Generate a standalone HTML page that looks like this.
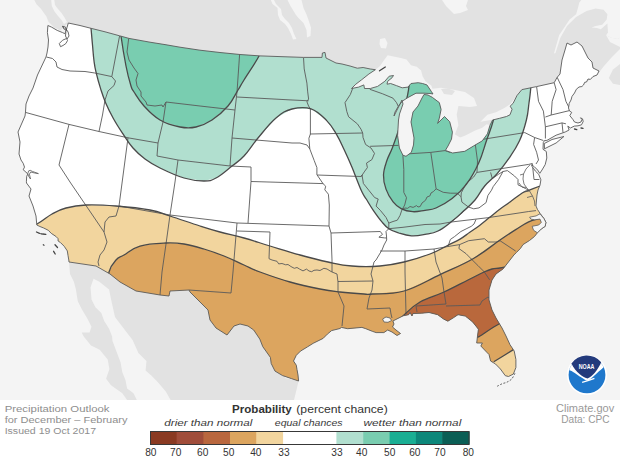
<!DOCTYPE html>
<html><head><meta charset="utf-8"><style>
html,body{margin:0;padding:0;background:#fff;}
body{width:620px;height:460px;position:relative;overflow:hidden;font-family:"Liberation Sans",sans-serif;}
svg{position:absolute;left:0;top:0;}
.t{position:absolute;white-space:nowrap;}
</style></head><body>
<svg width="620" height="460" viewBox="0 0 620 460">
<rect x="0" y="0" width="620" height="400" fill="#f4f4f4"/>
<path d="M34.3,0 L620,0 L620,49 L612,57 L604,66 L597,75 L560,100 L480,150 L400,100 L300,70 L120,40 L68.3,23 L65.9,25 L63.7,27.2 L60.4,30.4 L53.9,27.2 L48.5,21.7 L46.3,16.3 L40.9,8.7 L36.5,4.3Z" fill="#e2e2e2"/>
<path d="M608.8,78 L613,69.5 L620,63.9 L620,85 L613,83.7Z" fill="#e2e2e2"/>
<path d="M51.2,0 L54.3,0 L55,5 L58,9 L61.5,13 L64.5,17.5 L67,22 L64,24 L61.5,20 L58,16 L54.5,11.5 L51.8,6Z" fill="#f4f4f4"/>
<path d="M270.8,0 L274,0 L276,4 L281,9 L282,15 L285,19 L289,23 L292,28 L294,34 L296.5,39 L293,39.5 L291,34 L288,28 L285,24 L280,20 L278,15 L277.5,8 L272.5,4Z" fill="#f4f4f4"/>
<path d="M287.5,0 L301.5,0 L303.5,8 L306.5,14.5 L308.5,20 L311,27.5 L310.5,36 L307,37.5 L306.5,30 L303.5,23 L298.5,18 L296,15 L290.5,6Z" fill="#f4f4f4"/>
<path d="M380,39 L385,38 L387.5,43 L386,48.5 L381,48 L379.5,44Z" fill="#f4f4f4"/>
<path d="M442,0 L468,0 L466,6 L468,10 L460,13 L454,14 L446,6Z" fill="#f4f4f4"/>
<path d="M351.5,88.5 L355.8,84.2 L361.6,79.8 L368.9,74 L375.4,69.7 L380,66 L383.4,61 L387.7,55.2 L393.5,56.6 L400.8,58.1 L406.6,59.5 L411,65.3 L416.8,66.8 L421.1,70.4 L422.6,76.2 L425.5,81.3 L428.4,83.5 L431.3,85.6 L433,90 L431,92 L410,90 L380,90 L360,90Z" fill="#f4f4f4"/>
<path d="M396,95 L425,88 L432,92 L430,100 L416,160 L396,160Z" fill="#f4f4f4"/>
<path d="M425,90 L432.4,88.7 L441,87.8 L455,90 L465,92 L474,98 L477,106 L470,107 L458.4,106 L456.7,114.7 L458.4,125.2 L455,133.9 L453.2,140.8 L449.7,146 L445.4,150.4 L440,120 L432,96Z" fill="#f4f4f4"/>
<path d="M445.5,150 L449,144.3 L456,139 L464.8,135.7 L475.2,130.4 L482.2,127.8 L486.5,124.3 L490,125 L487.4,133.9 L482.2,140.9 L473.5,146 L464.8,151.3 L452.6,153Z" fill="#f4f4f4"/>
<path d="M480.4,121.7 L487.4,114.8 L496,112.2 L504.8,107.8 L510,104.3 L516,97 L520,92 L514,106 L510,114.8 L499.6,118.3 L490.9,120Z" fill="#f4f4f4"/>
<path d="M553.9,53.5 L559.1,35.2 L564.3,27.4 L569.6,19.6 L576.1,14.3 L578,7.8 L579.3,2.6 L581.3,0 L620,0 L620,37.8 L617.8,39.1 L611.3,37.8 L606.1,35.2 L608,32.6 L607.4,23.5 L600.8,29.3 L596.9,28 L591.7,27.4 L595.6,26.1 L602.2,24.8 L606.7,19.6 L607.4,14.3 L603.5,9.8 L595.6,8.5 L586.5,11.1 L576.1,17 L567,26.1 L560.4,37.8 L555.5,53Z" fill="#f4f4f4"/>
<path d="M606.1,35.2 L611.3,37.8 L617.8,39.1 L620,37.8 L620,47 L610,42Z" fill="#f4f4f4"/>
<path d="M441,89 L448,88.5 L455,91 L452,95 L444,94Z" fill="#e2e2e2"/>
<path d="M127.1,400 L122.3,393.2 L111,385.2 L106.1,378.7 L109.4,369 L107.7,359.4 L99.7,349.7 L91,345.5 L83.7,336.5 L81.7,332.6 L89.6,332.6 L91.5,326.8 L87.6,318.9 L81.7,309.1 L77.8,301.3 L75.9,289.6 L73.9,281.7 L70,273.9 L69,262 L96,262 L120,275 L136,285 L160,288 L200,288 L240,315 L270,340 L285,377.9 L298.6,381 L296.3,390.8 L294,400Z" fill="#e2e2e2"/>
<path d="M93.5,278.8 L99.4,281.7 L109.1,289.6 L111.1,299.4 L115,317 L120.9,324.8 L126.8,332.6 L132.6,340 L138.4,352.9 L146.5,361 L145.6,370.6 L151.3,375.5 L157.7,381.9 L165.8,391.6 L170.6,400 L136.8,400 L133.5,393.2 L127.1,388.4 L125.5,380.3 L122.3,372.3 L120.6,362.6 L115.8,349.7 L112.5,341 L112.1,336.5 L109.1,328.7 L104.2,320.9 L101.3,313.1 L95.4,307.2 L91.5,299.4 L90.5,287.6Z" fill="#f4f4f4"/>
<clipPath id="us"><path d="M47.9,25.5 L51.7,27.2 L57.2,30.4 L62.6,32.6 L64.8,33.7 L66,31 L67,27.5 L68.3,23 L80,25.5 L91,28.3 L105,31.8 L119.6,35.8 L129,38.4 L150,42.2 L165,44.6 L180,47.2 L200,50.2 L220,52.5 L240,54.5 L260,55.9 L280,56.6 L303.5,57.4 L322,57.4 L322.4,53 L325,52.4 L326,58 L330,60 L336,63 L342,64 L350,66 L357.3,68.2 L363.1,67.5 L370.3,69 L375.4,69.7 L368.9,74 L361.6,79.8 L355.8,84.2 L351.5,88.5 L358.7,87.1 L363.8,84.9 L364.5,88.5 L370.3,88.5 L377.6,86.4 L384.8,81.3 L389.2,76.2 L393.5,75.5 L392.1,77.7 L387.7,81.3 L387,84.2 L390.6,83.5 L396.4,85.6 L402.2,87.8 L408,87.1 L411,83.5 L418.2,82.7 L422.6,83.5 L426.9,84.9 L431.3,91.4 L433,94 L430,93.5 L424,93.2 L416,93.2 L408,97.5 L402.5,101 L398.5,106 L395,112 L394,116 L399,106 L402,100 L403,104 L399.5,114 L398.5,120 L397.6,135.6 L399.4,148 L402.9,155.2 L406,156.3 L411.3,152.4 L413.5,145 L414,138 L411,122 L413,112 L418,106 L422,98 L424,94.5 L428,95 L432.4,97.4 L439.3,102.6 L441.1,109.5 L439.3,118.2 L437.6,123.4 L444.5,116.5 L449.7,121.7 L452.4,132.1 L451.5,139.1 L448,146 L445.4,150.4 L452.6,153 L464.8,151.3 L473.5,146 L482.2,140.9 L487.4,133.9 L490,125.2 L492.6,120 L499.6,118.3 L506.5,116.5 L510,114.8 L512.1,109.2 L510.1,106.2 L513.1,103.3 L517,95.5 L521.9,89.6 L536.6,86.6 L554.2,82.7 L557,77.5 L560,74 L562,60 L565,50 L567,43 L571,45 L577,42 L582,46 L588,58 L592,62 L593,68 L599,71 L597,75 L593,76.5 L590.4,79.4 L588,79 L586.5,82 L584.7,82.3 L583.5,85 L581.9,86.5 L579,87 L576.3,89.3 L574.5,93 L572,96.4 L571,100 L569.2,103.4 L568.5,108 L569.5,111 L571.7,112.4 L569.8,115.6 L573,119.6 L574.5,122 L578,123 L581,122 L582,119.5 L580.5,117.8 L582.5,118.8 L583.2,121.5 L581.5,124.8 L578,125.8 L574.3,126.1 L570.4,128 L567.8,126.1 L569.1,130 L565.2,132 L556.1,135.2 L546.9,140.4 L544.5,140.5 L543.3,142.5 L543,149.3 L546.3,151.5 L546.8,158 L545.2,164.6 L542,170 L539.8,173.3 L537.6,170 L534.3,166.7 L531.5,164.8 L532.2,166.7 L533.8,168.9 L535.4,171.1 L538.7,174.3 L540.9,179.8 L540,185.2 L538,190 L537,195 L536.5,200 L536,206 L537.4,209.3 L540,213.3 L543.9,218.5 L545.9,222.4 L545.2,226.3 L541.3,228.9 L537.4,232.8 L534.5,236.5 L529.5,240.5 L523,244.6 L520.4,248.5 L516.5,252.4 L513.9,255 L510,260 L503,269 L496,274 L492,280 L489,290 L489,300 L492,310 L496,318 L502,328 L506,336 L510,344.7 L514.2,351 L515.9,359.4 L515.9,367.5 L513.4,374 L508.5,376.5 L505.3,375.7 L500.4,369 L495.5,364 L490.6,361 L489,354.5 L487.3,352.8 L480.8,346 L482.4,343 L476.7,343 L477.5,336 L478.3,330 L478.4,329.2 L472.6,321.9 L465.3,316.1 L458,314.7 L453.7,317.6 L447.9,321.2 L443.5,319 L437.7,314.7 L429,312.5 L421.8,313.2 L413,313.5 L412,316 L410,312.5 L408.7,314.7 L403.2,315.8 L398,318.4 L392.9,321 L394,324 L392.5,327 L396,330 L400.5,333.5 L397,335.5 L392,332 L387.7,330 L383.9,332.6 L376.1,332.6 L372.3,331.3 L365.8,328.7 L361.9,327.4 L347.7,328.7 L341.3,327.4 L340,328.5 L331.6,330.6 L327.4,334.1 L323.1,338.4 L313.2,343.3 L307.6,346.8 L300.5,351.1 L296.3,355.3 L293.5,361 L296.3,365.2 L297,369.5 L298,375 L298.6,381 L291.7,378.7 L282.6,375.6 L275,371.1 L271.2,363.5 L270.4,357.4 L262.8,346.7 L259.8,339.1 L253.7,330 L248,326 L240,324 L234,326 L227,335 L216,328 L210,320 L208,310 L200,302 L190,292 L189,290 L170,291 L169,296 L160,295 L136,291 L120,282 L110,274 L96,266 L69,262 L68.8,260 L68,255.4 L67.3,250.9 L64.2,246.3 L60.4,242.5 L58.1,241 L58.1,238.7 L55.9,236.4 L51.3,233.4 L48.3,230.3 L43.7,228 L39.9,226.5 L36.8,225 L36,216 L33,206 L29,196 L31,189 L26.5,183 L26.4,181.7 L26.7,176.3 L27.8,174.1 L25.9,172 L23.2,169.8 L24.5,167.1 L23.2,163.3 L21,160 L19,154 L20,142 L18,132 L25,116 L25.5,112 L26,104 L29,96 L33,88 L37.5,75 L46,57 L47,53 L48,47 L48.5,40 L47.4,32.6Z M544.3,143.5 L552,139.5 L563.9,136.5 L556.1,143 L548,147 L544.5,148.8Z"/></clipPath>
<path d="M47.9,25.5 L51.7,27.2 L57.2,30.4 L62.6,32.6 L64.8,33.7 L66,31 L67,27.5 L68.3,23 L80,25.5 L91,28.3 L105,31.8 L119.6,35.8 L129,38.4 L150,42.2 L165,44.6 L180,47.2 L200,50.2 L220,52.5 L240,54.5 L260,55.9 L280,56.6 L303.5,57.4 L322,57.4 L322.4,53 L325,52.4 L326,58 L330,60 L336,63 L342,64 L350,66 L357.3,68.2 L363.1,67.5 L370.3,69 L375.4,69.7 L368.9,74 L361.6,79.8 L355.8,84.2 L351.5,88.5 L358.7,87.1 L363.8,84.9 L364.5,88.5 L370.3,88.5 L377.6,86.4 L384.8,81.3 L389.2,76.2 L393.5,75.5 L392.1,77.7 L387.7,81.3 L387,84.2 L390.6,83.5 L396.4,85.6 L402.2,87.8 L408,87.1 L411,83.5 L418.2,82.7 L422.6,83.5 L426.9,84.9 L431.3,91.4 L433,94 L430,93.5 L424,93.2 L416,93.2 L408,97.5 L402.5,101 L398.5,106 L395,112 L394,116 L399,106 L402,100 L403,104 L399.5,114 L398.5,120 L397.6,135.6 L399.4,148 L402.9,155.2 L406,156.3 L411.3,152.4 L413.5,145 L414,138 L411,122 L413,112 L418,106 L422,98 L424,94.5 L428,95 L432.4,97.4 L439.3,102.6 L441.1,109.5 L439.3,118.2 L437.6,123.4 L444.5,116.5 L449.7,121.7 L452.4,132.1 L451.5,139.1 L448,146 L445.4,150.4 L452.6,153 L464.8,151.3 L473.5,146 L482.2,140.9 L487.4,133.9 L490,125.2 L492.6,120 L499.6,118.3 L506.5,116.5 L510,114.8 L512.1,109.2 L510.1,106.2 L513.1,103.3 L517,95.5 L521.9,89.6 L536.6,86.6 L554.2,82.7 L557,77.5 L560,74 L562,60 L565,50 L567,43 L571,45 L577,42 L582,46 L588,58 L592,62 L593,68 L599,71 L597,75 L593,76.5 L590.4,79.4 L588,79 L586.5,82 L584.7,82.3 L583.5,85 L581.9,86.5 L579,87 L576.3,89.3 L574.5,93 L572,96.4 L571,100 L569.2,103.4 L568.5,108 L569.5,111 L571.7,112.4 L569.8,115.6 L573,119.6 L574.5,122 L578,123 L581,122 L582,119.5 L580.5,117.8 L582.5,118.8 L583.2,121.5 L581.5,124.8 L578,125.8 L574.3,126.1 L570.4,128 L567.8,126.1 L569.1,130 L565.2,132 L556.1,135.2 L546.9,140.4 L544.5,140.5 L543.3,142.5 L543,149.3 L546.3,151.5 L546.8,158 L545.2,164.6 L542,170 L539.8,173.3 L537.6,170 L534.3,166.7 L531.5,164.8 L532.2,166.7 L533.8,168.9 L535.4,171.1 L538.7,174.3 L540.9,179.8 L540,185.2 L538,190 L537,195 L536.5,200 L536,206 L537.4,209.3 L540,213.3 L543.9,218.5 L545.9,222.4 L545.2,226.3 L541.3,228.9 L537.4,232.8 L534.5,236.5 L529.5,240.5 L523,244.6 L520.4,248.5 L516.5,252.4 L513.9,255 L510,260 L503,269 L496,274 L492,280 L489,290 L489,300 L492,310 L496,318 L502,328 L506,336 L510,344.7 L514.2,351 L515.9,359.4 L515.9,367.5 L513.4,374 L508.5,376.5 L505.3,375.7 L500.4,369 L495.5,364 L490.6,361 L489,354.5 L487.3,352.8 L480.8,346 L482.4,343 L476.7,343 L477.5,336 L478.3,330 L478.4,329.2 L472.6,321.9 L465.3,316.1 L458,314.7 L453.7,317.6 L447.9,321.2 L443.5,319 L437.7,314.7 L429,312.5 L421.8,313.2 L413,313.5 L412,316 L410,312.5 L408.7,314.7 L403.2,315.8 L398,318.4 L392.9,321 L394,324 L392.5,327 L396,330 L400.5,333.5 L397,335.5 L392,332 L387.7,330 L383.9,332.6 L376.1,332.6 L372.3,331.3 L365.8,328.7 L361.9,327.4 L347.7,328.7 L341.3,327.4 L340,328.5 L331.6,330.6 L327.4,334.1 L323.1,338.4 L313.2,343.3 L307.6,346.8 L300.5,351.1 L296.3,355.3 L293.5,361 L296.3,365.2 L297,369.5 L298,375 L298.6,381 L291.7,378.7 L282.6,375.6 L275,371.1 L271.2,363.5 L270.4,357.4 L262.8,346.7 L259.8,339.1 L253.7,330 L248,326 L240,324 L234,326 L227,335 L216,328 L210,320 L208,310 L200,302 L190,292 L189,290 L170,291 L169,296 L160,295 L136,291 L120,282 L110,274 L96,266 L69,262 L68.8,260 L68,255.4 L67.3,250.9 L64.2,246.3 L60.4,242.5 L58.1,241 L58.1,238.7 L55.9,236.4 L51.3,233.4 L48.3,230.3 L43.7,228 L39.9,226.5 L36.8,225 L36,216 L33,206 L29,196 L31,189 L26.5,183 L26.4,181.7 L26.7,176.3 L27.8,174.1 L25.9,172 L23.2,169.8 L24.5,167.1 L23.2,163.3 L21,160 L19,154 L20,142 L18,132 L25,116 L25.5,112 L26,104 L29,96 L33,88 L37.5,75 L46,57 L47,53 L48,47 L48.5,40 L47.4,32.6Z M544.3,143.5 L552,139.5 L563.9,136.5 L556.1,143 L548,147 L544.5,148.8Z" fill="#fff"/>
<g clip-path="url(#us)"><path d="M91,28 L92.5,45 L93.9,60 L95.9,71.7 L100.8,89.4 L105.7,103 L113.5,118.7 L123.3,134.4 L133,148 L145,159 L160,168 L184,178 L204,181 L216,178 L232,166 L244,156 L258,138 L276,118 L292,109 L311,108.8 L326.7,120.6 L336.5,134.3 L344.3,150 L352.1,167.5 L357,180 L362,192 L366.2,199 L373.3,210.3 L381.7,221.6 L388.8,228.7 L398.7,233 L411.4,235.8 L425,234.4 L438,231 L451,222 L462,212.5 L475,200 L484.7,186 L496.9,173.9 L509.1,158.2 L519.5,140.8 L526.4,120 L529,103 L530.7,88.6 L533,60 L540,0 L91,0Z" fill="#b1dfcf"/><path d="M121,30 L121,36 L126,66 L130.7,85 L134,92 L144,106 L160,120 L180,127 L196,127 L212,120 L228,106 L238,90 L244,80 L259,56 L265,40Z" fill="#79cdb0"/><path d="M409,60 L409,86 L404,110 L398.5,130.3 L392.3,148 L386.9,160.5 L383.5,175 L386,189.1 L393.1,201.9 L401.5,208.9 L412.8,211.7 L425,210.3 L436,208 L452.1,198.6 L466.3,184.4 L478.7,163 L486.7,140 L493.5,119.9 L500,90 L500,60Z" fill="#79cdb0"/><path d="M20,230 L37,224 L52,214 L66,208 L86,205 L116,206 L150,210 L170,216 L200,226 L220,232 L244,238 L270,246 L300,255 L328,262 L352,266 L380,266 L404,262 L430,254 L448.4,245 L460,239.1 L469.8,232.3 L479.6,225.4 L489.4,217.6 L499.1,209.8 L510,202 L522.2,193 L528.7,190.4 L540,186 L620,186 L620,400 L0,400 L0,230Z" fill="#f2d59e"/><path d="M108,290 L109,272 L116,260 L124,255 L140,246 L166,243 L184,244 L204,249 L224,256 L244,265 L260,272 L290,282 L320,289 L340,292 L364,294 L372,294 L404,291 L440,274.6 L472.6,259 L500,240 L515.7,229.6 L528.7,221.8 L540.5,217.9 L555,212 L620,214 L620,340 L520,345 L513.4,349.6 L493.8,361.8 L470,375 L470,400 L108,400Z" fill="#dca55f"/><path d="M400,320 L404,315 L420,302 L444,292 L468,280 L484,272 L492,269 L500,268 L510,266 L620,266 L620,320 L510,322 L503.6,325 L499,324 L480,336 L478.3,337 L470,345 L400,345Z" fill="#b9683c"/>
<g fill="none" stroke="#5a5a5a" stroke-width="0.9" stroke-linejoin="round"><path d="M46.4,57 L52.5,58.5 L56,62 L57,67 L62,69.5 L70,71 L85,71.5 L94.8,73 L111.8,76.6"/><path d="M119.6,35.8 L111.8,76.6"/><path d="M111.8,76.6 L115.5,81 L114,85.5 L108,91 L105,100 L102.5,115 L99,131.5"/><path d="M25.5,112.4 L69,124.4 L99,131.5 L128,137.8 L158,143"/><path d="M69,124.4 L59,165 L70,182 L104,232"/><path d="M119,206 L116,216 L109,217 L105,222 L104,232 L107,242 L104,250 L100,255 L98,262 L99,266"/><path d="M128,137.8 L119,206"/><path d="M128.7,38.4 L127,52 L129,60 L134,68 L138,73.5 L136,80 L137,86 L141,92 L141,96 L146,102 L147,105 L155,106 L162,105 L163,107 L166,102"/><path d="M166,102 L163,122 L158,143 L157,156"/><path d="M157,156 L178,160 L230,166"/><path d="M178,160 L175,182 L170,215"/><path d="M166,102 L200,106 L235,110"/><path d="M239.6,54.5 L237,92 L235,110 L232,138 L230,166"/><path d="M237,97 L290,99.9 L308.6,100.8"/><path d="M232,138 L292,143 L300,143 L307,145 L309.8,149"/><path d="M303.5,57.4 L304.2,68.9 L306.9,83.1 L307.7,91.9 L308.6,99 L306.9,101.7 L308.6,106.1 L310.4,108.8 L310.4,134 L308.9,138.3 L309.8,149"/><path d="M310,134 L362.5,133"/><path d="M353,87.5 L350.3,94.6 L345,102.6 L346.8,111.5 L348.6,116.8 L357.4,123.9 L361,129.2 L362.7,133 L363,137.4 L365.6,144.5 L371,148 L374.5,153.4 L371.9,159.6 L366.5,163.1 L367.4,167.6 L364.8,171.1 L361.2,176.5 L362,175 L363.4,183.5 L369,190.5 L374.7,197.6 L378.2,199 L376.1,206.1 L380.3,210.3 L386,217.4 L388.8,223.1 L388.8,228.7 L386,231.5 L386.5,236 L386.7,240 L384,245 L382,250 L376,260 L374,262 L371,274 L373,281 L372,290 L369,298 L367,309 L390,308 L391,314 L392,318"/><path d="M309.8,149 L314.2,160.5 L316.9,167.6 L316.9,174.7 L323,183.6 L325.7,186.2 L324.8,189.8 L328.4,194.2 L329.3,205 L329,226 L331,233 L332,260 L332,272"/><path d="M317,175 L361.2,176.5"/><path d="M251,181.5 L323,183.6"/><path d="M230,166 L251,167 L251,181.5 L248,223"/><path d="M170,215 L237,223 L329,226"/><path d="M170,215 L166,244 L162,272 L160,295"/><path d="M119,206 L170,215"/><path d="M237,223 L233,272 L231,293 L189,290"/><path d="M237,231 L270,232 L269,258.7 L272,260 L277,261.3 L278.7,263.9 L282,263.5 L285.7,264.8 L288,264.5 L290.9,266.5 L294.3,268.3 L297,267.5 L299.6,269.1 L303,270.9 L306.5,269.1 L309,271 L311.7,271.7 L314,270.3 L317,270 L320,270.5 L323.9,268.3 L327,269 L330,270.9 L332,272 L337,274 L338,282 L338,292 L344,306 L342,326"/><path d="M331,233 L380.3,231.5 L382.5,234.4 L378.9,237.2 L384.6,237.9 L386.7,238"/><path d="M338,281.5 L373,281"/><path d="M388.8,223.1 L393,221.5 L397.3,220.2 L400.1,215.3 L401.5,211 L402.4,209.2 L405,208 L407.7,208.3 L410,206.5 L413.1,207.4 L416.6,205.6 L418,207 L420.2,206.5 L422,203 L425.5,200.3 L427,197 L429.9,195.9 L431,193 L433.5,191.5 L436.1,188.8 L443.2,192.3 L450.3,193.2 L457.4,193.2 L461,196.8 L461.9,202.1 L468.4,207 L457.7,216.8 L450.6,222.1"/><path d="M402.9,155.2 L403.8,169.4 L403.8,192.4 L406.5,197.7 L404.7,205 L402.4,209.2"/><path d="M430.8,152.4 L436.1,188.8"/><path d="M402.4,154.2 L430.8,152.4 L445,150.6 L450.3,152.4"/><path d="M475.2,143.5 L477.5,161 L477,172 L473.7,177 L466.6,183 L461.3,192.8 L461,196.8"/><path d="M477,172.4 L528.7,164.4 L532.3,163.5 L534,179.5 L539.4,179.5"/><path d="M490.6,172.4 L492.3,178.6 L498.6,174.2 L503,171.5 L507.4,170.6 L511,173.3 L514.5,176 L518,179.5 L518,184.8 L521.6,186.6 L525.2,188.4 L528.7,190.2"/><path d="M503,171.5 L498.6,179.5 L493.2,186.6 L491.5,190.2 L487.9,195.5 L486.1,202.6 L479,207.9 L473.7,208.8 L468.4,207"/><path d="M388.8,228.7 L403,227.3 L425,224.5 L440,224 L450.6,222.1 L487.9,217.7 L528.7,211.5 L536,210.6"/><path d="M448,246.5 L450.4,239.4 L454.4,236.7 L460.9,231.5 L466.1,228.9 L471.3,226.3 L474,224 L476,219.4"/><path d="M380,251 L405,251 L434,249 L448,246.5 L459.6,244.6"/><path d="M405,251 L405,272 L406,314"/><path d="M434,249 L436,262 L442,278 L444,292 L446,304 L416,306 L417,312"/><path d="M446,306 L480,305 L482,301 L488,297 L489,298"/><path d="M459.6,244.6 L458.9,248.5 L466.1,253.7 L471.3,259 L477.9,265.5 L484.4,272 L489.6,279.8"/><path d="M459.6,244.6 L468.7,240.7 L484.4,238.7 L488.3,242 L496.1,242 L500,240.7 L515.7,251.1"/><path d="M370.1,146.3 L398.5,145.4"/><path d="M369.8,89.3 L382.3,93.7 L392.9,98.1 L396.5,102.6 L398.2,106.1"/><path d="M481.7,139.5 L524.8,132.6 L534.6,137.5 L533.6,144.4 L536.6,152.2 L538.5,160 L536,164"/><path d="M534.6,137.5 L543.4,140.5"/><path d="M536.6,86.6 L538.5,101.3 L543.4,111.1 L545.4,126.8 L545.4,138.5"/><path d="M554.2,82.7 L556.1,89.6 L552.2,101.3 L551.2,115"/><path d="M557,77 L563,89.6 L565.9,101.3 L569.8,109.2 L571.8,112"/><path d="M545.4,117 L551.2,115 L569.8,110.5"/><path d="M545.4,126.8 L562,122.9 L565.9,123.8"/><path d="M562,122.9 L563,132.6"/></g>
<g fill="none" stroke="#4a4a4a" stroke-width="1.3"><path d="M91,28 C91.3,31.4 91.9,38.6 92.5,45 C93.1,51.4 93.2,54.7 93.9,60 C94.6,65.3 94.5,65.8 95.9,71.7 C97.3,77.6 98.8,83.1 100.8,89.4 C102.8,95.7 103.2,97.1 105.7,103 C108.2,108.9 110,112.4 113.5,118.7 C117,125 119.4,128.5 123.3,134.4 C127.2,140.3 128.7,143.1 133,148 C137.3,152.9 139.6,155 145,159 C150.4,163 152.2,164.2 160,168 C167.8,171.8 175.2,175.4 184,178 C192.8,180.6 197.6,181 204,181 C210.4,181 210.4,181 216,178 C221.6,175 226.4,170.4 232,166 C237.6,161.6 238.8,161.6 244,156 C249.2,150.4 251.6,145.6 258,138 C264.4,130.4 269.2,123.8 276,118 C282.8,112.2 285,110.8 292,109 C299,107.2 304.1,106.5 311,108.8 C317.9,111.1 321.6,115.5 326.7,120.6 C331.8,125.7 333,128.4 336.5,134.3 C340,140.2 341.2,143.4 344.3,150 C347.4,156.6 349.6,161.5 352.1,167.5 C354.6,173.5 355,175.1 357,180 C359,184.9 360.2,188.2 362,192 C363.8,195.8 363.9,195.3 366.2,199 C368.5,202.7 370.2,205.8 373.3,210.3 C376.4,214.8 378.6,217.9 381.7,221.6 C384.8,225.3 385.4,226.4 388.8,228.7 C392.2,231 394.2,231.6 398.7,233 C403.2,234.4 406.1,235.5 411.4,235.8 C416.7,236.1 419.7,235.4 425,234.4 C430.3,233.4 432.8,233.5 438,231 C443.2,228.5 446.2,225.7 451,222 C455.8,218.3 457.2,216.9 462,212.5 C466.8,208.1 470.5,205.3 475,200 C479.5,194.7 480.3,191.2 484.7,186 C489.1,180.8 492,179.5 496.9,173.9 C501.8,168.3 504.6,164.8 509.1,158.2 C513.6,151.6 516,148.4 519.5,140.8 C523,133.2 524.5,127.6 526.4,120 C528.3,112.4 528.1,109.3 529,103 C529.9,96.7 529.9,97.2 530.7,88.6 C531.5,80 532.5,65.7 533,60"/><path d="M121,30 C121,31.2 120,28.8 121,36 C122,43.2 124.1,56.2 126,66 C127.9,75.8 129.1,79.8 130.7,85 C132.3,90.2 131.3,87.8 134,92 C136.7,96.2 138.8,100.4 144,106 C149.2,111.6 152.8,115.8 160,120 C167.2,124.2 172.8,125.6 180,127 C187.2,128.4 189.6,128.4 196,127 C202.4,125.6 205.6,124.2 212,120 C218.4,115.8 222.8,112 228,106 C233.2,100 234.8,95.2 238,90 C241.2,84.8 239.8,86.8 244,80 C248.2,73.2 254.8,64 259,56 C263.2,48 263.8,43.2 265,40"/><path d="M409,60 C409,65.2 410,76 409,86 C408,96 406.1,101.1 404,110 C401.9,118.9 400.8,122.7 398.5,130.3 C396.2,137.9 394.6,142 392.3,148 C390,154 388.7,155.1 386.9,160.5 C385.1,165.9 383.7,169.3 383.5,175 C383.3,180.7 384.1,183.7 386,189.1 C387.9,194.5 390,197.9 393.1,201.9 C396.2,205.9 397.6,206.9 401.5,208.9 C405.4,210.9 408.1,211.4 412.8,211.7 C417.5,212 420.4,211 425,210.3 C429.6,209.6 430.6,210.3 436,208 C441.4,205.7 446,203.3 452.1,198.6 C458.2,193.9 461,191.5 466.3,184.4 C471.6,177.3 474.6,171.9 478.7,163 C482.8,154.1 483.7,148.6 486.7,140 C489.7,131.4 490.8,129.9 493.5,119.9 C496.2,109.9 498.7,102 500,90 C501.3,78 500,66 500,60"/><path d="M20,230 C23.4,228.8 30.6,227.2 37,224 C43.4,220.8 46.2,217.2 52,214 C57.8,210.8 59.2,209.8 66,208 C72.8,206.2 76,205.4 86,205 C96,204.6 103.2,205 116,206 C128.8,207 139.2,208 150,210 C160.8,212 160,212.8 170,216 C180,219.2 190,222.8 200,226 C210,229.2 211.2,229.6 220,232 C228.8,234.4 234,235.2 244,238 C254,240.8 258.8,242.6 270,246 C281.2,249.4 288.4,251.8 300,255 C311.6,258.2 317.6,259.8 328,262 C338.4,264.2 341.6,265.2 352,266 C362.4,266.8 369.6,266.8 380,266 C390.4,265.2 394,264.4 404,262 C414,259.6 421.1,257.4 430,254 C438.9,250.6 442.4,248 448.4,245 C454.4,242 455.7,241.6 460,239.1 C464.3,236.6 465.9,235 469.8,232.3 C473.7,229.6 475.7,228.3 479.6,225.4 C483.5,222.5 485.5,220.7 489.4,217.6 C493.3,214.5 495,212.9 499.1,209.8 C503.2,206.7 505.4,205.4 510,202 C514.6,198.6 518.5,195.3 522.2,193 C525.9,190.7 525.1,191.8 528.7,190.4 C532.3,189 537.7,186.9 540,186"/><path d="M108,290 C108.2,286.4 107.4,278 109,272 C110.6,266 113,263.4 116,260 C119,256.6 119.2,257.8 124,255 C128.8,252.2 131.6,248.4 140,246 C148.4,243.6 157.2,243.4 166,243 C174.8,242.6 176.4,242.8 184,244 C191.6,245.2 196,246.6 204,249 C212,251.4 216,252.8 224,256 C232,259.2 236.8,261.8 244,265 C251.2,268.2 250.8,268.6 260,272 C269.2,275.4 278,278.6 290,282 C302,285.4 310,287 320,289 C330,291 331.2,291 340,292 C348.8,293 357.6,293.6 364,294 C370.4,294.4 364,294.6 372,294 C380,293.4 390.4,294.9 404,291 C417.6,287.1 426.3,281 440,274.6 C453.7,268.2 460.6,265.9 472.6,259 C484.6,252.1 491.4,245.9 500,240 C508.6,234.1 510,233.2 515.7,229.6 C521.4,226 523.7,224.1 528.7,221.8 C533.7,219.5 535.2,219.9 540.5,217.9 C545.8,215.9 552.1,213.2 555,212"/><path d="M400,320 C400.8,319 400,318.6 404,315 C408,311.4 412,306.6 420,302 C428,297.4 434.4,296.4 444,292 C453.6,287.6 460,284 468,280 C476,276 479.2,274.2 484,272 C488.8,269.8 488.8,269.8 492,269 C495.2,268.2 496.4,268.6 500,268 C503.6,267.4 508,266.4 510,266"/><path d="M493.8,361.8 C497.7,359.4 509.5,352 513.4,349.6"/><path d="M478.3,337 C478.6,336.8 475.9,338.6 480,336 C484.1,333.4 494.3,326.2 499,324 C503.7,321.8 502.7,324.8 503.6,325"/></g>
</g>
<path d="M47.9,25.5 L51.7,27.2 L57.2,30.4 L62.6,32.6 L64.8,33.7 L66,31 L67,27.5 L68.3,23 L80,25.5 L91,28.3 L105,31.8 L119.6,35.8 L129,38.4 L150,42.2 L165,44.6 L180,47.2 L200,50.2 L220,52.5 L240,54.5 L260,55.9 L280,56.6 L303.5,57.4 L322,57.4 L322.4,53 L325,52.4 L326,58 L330,60 L336,63 L342,64 L350,66 L357.3,68.2 L363.1,67.5 L370.3,69 L375.4,69.7 L368.9,74 L361.6,79.8 L355.8,84.2 L351.5,88.5 L358.7,87.1 L363.8,84.9 L364.5,88.5 L370.3,88.5 L377.6,86.4 L384.8,81.3 L389.2,76.2 L393.5,75.5 L392.1,77.7 L387.7,81.3 L387,84.2 L390.6,83.5 L396.4,85.6 L402.2,87.8 L408,87.1 L411,83.5 L418.2,82.7 L422.6,83.5 L426.9,84.9 L431.3,91.4 L433,94 L430,93.5 L424,93.2 L416,93.2 L408,97.5 L402.5,101 L398.5,106 L395,112 L394,116 L399,106 L402,100 L403,104 L399.5,114 L398.5,120 L397.6,135.6 L399.4,148 L402.9,155.2 L406,156.3 L411.3,152.4 L413.5,145 L414,138 L411,122 L413,112 L418,106 L422,98 L424,94.5 L428,95 L432.4,97.4 L439.3,102.6 L441.1,109.5 L439.3,118.2 L437.6,123.4 L444.5,116.5 L449.7,121.7 L452.4,132.1 L451.5,139.1 L448,146 L445.4,150.4 L452.6,153 L464.8,151.3 L473.5,146 L482.2,140.9 L487.4,133.9 L490,125.2 L492.6,120 L499.6,118.3 L506.5,116.5 L510,114.8 L512.1,109.2 L510.1,106.2 L513.1,103.3 L517,95.5 L521.9,89.6 L536.6,86.6 L554.2,82.7 L557,77.5 L560,74 L562,60 L565,50 L567,43 L571,45 L577,42 L582,46 L588,58 L592,62 L593,68 L599,71 L597,75 L593,76.5 L590.4,79.4 L588,79 L586.5,82 L584.7,82.3 L583.5,85 L581.9,86.5 L579,87 L576.3,89.3 L574.5,93 L572,96.4 L571,100 L569.2,103.4 L568.5,108 L569.5,111 L571.7,112.4 L569.8,115.6 L573,119.6 L574.5,122 L578,123 L581,122 L582,119.5 L580.5,117.8 L582.5,118.8 L583.2,121.5 L581.5,124.8 L578,125.8 L574.3,126.1 L570.4,128 L567.8,126.1 L569.1,130 L565.2,132 L556.1,135.2 L546.9,140.4 L544.5,140.5 L543.3,142.5 L543,149.3 L546.3,151.5 L546.8,158 L545.2,164.6 L542,170 L539.8,173.3 L537.6,170 L534.3,166.7 L531.5,164.8 L532.2,166.7 L533.8,168.9 L535.4,171.1 L538.7,174.3 L540.9,179.8 L540,185.2 L538,190 L537,195 L536.5,200 L536,206 L537.4,209.3 L540,213.3 L543.9,218.5 L545.9,222.4 L545.2,226.3 L541.3,228.9 L537.4,232.8 L534.5,236.5 L529.5,240.5 L523,244.6 L520.4,248.5 L516.5,252.4 L513.9,255 L510,260 L503,269 L496,274 L492,280 L489,290 L489,300 L492,310 L496,318 L502,328 L506,336 L510,344.7 L514.2,351 L515.9,359.4 L515.9,367.5 L513.4,374 L508.5,376.5 L505.3,375.7 L500.4,369 L495.5,364 L490.6,361 L489,354.5 L487.3,352.8 L480.8,346 L482.4,343 L476.7,343 L477.5,336 L478.3,330 L478.4,329.2 L472.6,321.9 L465.3,316.1 L458,314.7 L453.7,317.6 L447.9,321.2 L443.5,319 L437.7,314.7 L429,312.5 L421.8,313.2 L413,313.5 L412,316 L410,312.5 L408.7,314.7 L403.2,315.8 L398,318.4 L392.9,321 L394,324 L392.5,327 L396,330 L400.5,333.5 L397,335.5 L392,332 L387.7,330 L383.9,332.6 L376.1,332.6 L372.3,331.3 L365.8,328.7 L361.9,327.4 L347.7,328.7 L341.3,327.4 L340,328.5 L331.6,330.6 L327.4,334.1 L323.1,338.4 L313.2,343.3 L307.6,346.8 L300.5,351.1 L296.3,355.3 L293.5,361 L296.3,365.2 L297,369.5 L298,375 L298.6,381 L291.7,378.7 L282.6,375.6 L275,371.1 L271.2,363.5 L270.4,357.4 L262.8,346.7 L259.8,339.1 L253.7,330 L248,326 L240,324 L234,326 L227,335 L216,328 L210,320 L208,310 L200,302 L190,292 L189,290 L170,291 L169,296 L160,295 L136,291 L120,282 L110,274 L96,266 L69,262 L68.8,260 L68,255.4 L67.3,250.9 L64.2,246.3 L60.4,242.5 L58.1,241 L58.1,238.7 L55.9,236.4 L51.3,233.4 L48.3,230.3 L43.7,228 L39.9,226.5 L36.8,225 L36,216 L33,206 L29,196 L31,189 L26.5,183 L26.4,181.7 L26.7,176.3 L27.8,174.1 L25.9,172 L23.2,169.8 L24.5,167.1 L23.2,163.3 L21,160 L19,154 L20,142 L18,132 L25,116 L25.5,112 L26,104 L29,96 L33,88 L37.5,75 L46,57 L47,53 L48,47 L48.5,40 L47.4,32.6Z M544.3,143.5 L552,139.5 L563.9,136.5 L556.1,143 L548,147 L544.5,148.8Z" fill="none" stroke="#5a5a5a" stroke-width="0.9" stroke-linejoin="round"/>
<path d="M535,206 L534.5,201 L532.5,196 L529.5,191 L526.5,187.5 L524,184 L523,179 L523.5,174 L526,169 L530,164.8" fill="none" stroke="#5a5a5a" stroke-width="0.8"/>
<path d="M526.5,187.5 L522,187 L519,183" fill="none" stroke="#5a5a5a" stroke-width="0.8"/>
<path d="M529.5,191 L524,191.5" fill="none" stroke="#5a5a5a" stroke-width="0.8"/>
<path d="M532.5,196 L527,197.5" fill="none" stroke="#5a5a5a" stroke-width="0.8"/>
<path d="M523.5,174 L520,175" fill="none" stroke="#5a5a5a" stroke-width="0.8"/>
<path d="M574.5,129 L576.8,129.6" fill="none" stroke="#444" stroke-width="1.3" stroke-linecap="round"/>
<path d="M581,128 L583,128.4" fill="none" stroke="#444" stroke-width="1.3" stroke-linecap="round"/>
<path d="M379.5,70.8 L385.3,67" fill="none" stroke="#444" stroke-width="1.3" stroke-linecap="round"/>
<path d="M36.5,232 L39.5,233.3" fill="none" stroke="#444" stroke-width="1.3" stroke-linecap="round"/>
<path d="M40.8,233.6 L41.8,234" fill="none" stroke="#444" stroke-width="1.3" stroke-linecap="round"/>
<path d="M42.7,234 L45.8,234.4" fill="none" stroke="#444" stroke-width="1.3" stroke-linecap="round"/>
<path d="M43.3,244.8 L44,245.2" fill="none" stroke="#444" stroke-width="1.3" stroke-linecap="round"/>
<path d="M55,244.8 L57.5,247.5" fill="none" stroke="#444" stroke-width="1.3" stroke-linecap="round"/>
<path d="M53.6,251.3 L55.2,254" fill="none" stroke="#444" stroke-width="1.3" stroke-linecap="round"/>
<path d="M62.8,26.5 L64.5,28.5" fill="none" stroke="#444" stroke-width="1.3" stroke-linecap="round"/>
<path d="M66,29 L67.5,33" fill="none" stroke="#444" stroke-width="1.3" stroke-linecap="round"/>
<path d="M497.1,386.3 C497.9,385.9 500.4,384.5 502,383.8 C503.6,383.1 505.3,383 506.9,382.2 C508.5,381.4 510.4,380.4 511.8,378.9 C513.1,377.4 514.5,374.1 515,373.2" fill="none" stroke="#555" stroke-width="0.9" stroke-dasharray="2 1.5"/>
<path d="M63.5,26.5 L65.5,27 L66,29 L64,29.2Z" fill="#fff" stroke="#5a5a5a" stroke-width="0.9"/>
<path d="M66,30 L68,31.5 L69,36 L67,39 L65.5,36Z" fill="#fff" stroke="#5a5a5a" stroke-width="0.9"/>
<path d="M66.5,38.5 L62.6,40.2 L59.3,43.5 L60.5,46.7 L63,45.5 L65.9,43.5 L67.5,40.5Z" fill="#fff" stroke="#5a5a5a" stroke-width="0.9"/>
<path d="M27.8,173.6 L28.6,170.9 L30.2,170.3 L32.4,171.4 L38.4,173.6 L34.6,173 L30.8,172 L29.4,174.1 L30.5,179 L28.6,176.3Z" fill="#f6f6f6" stroke="#5a5a5a" stroke-width="0.8"/>
<path d="M382.6,319 L386,317 L390,318 L391.6,320.5 L388,322.3 L384,322Z" fill="#f6f6f6" stroke="#5a5a5a" stroke-width="0.8"/>
<path d="M540,213.8 L536.1,215.9 L529.6,217.2 L530.9,219.1 L534.8,219.8 L540,219.1 L541.3,222.4 L538.7,225 L532.2,226.3 L533.5,230.2 L537.4,232.8 L541.3,228.9 L545.2,226.3 L545.9,222.4 L543.9,218.5Z" fill="#f6f6f6" stroke="#5a5a5a" stroke-width="0.8"/>
<rect x="0" y="400" width="620" height="60" fill="#fff"/>
<rect x="150.3" y="431.5" width="26.9" height="13" fill="#8a3a22"/>
<rect x="176.6" y="431.5" width="27.4" height="13" fill="#a04d3a"/>
<rect x="203.4" y="431.5" width="27.2" height="13" fill="#b9673e"/>
<rect x="230" y="431.5" width="26.9" height="13" fill="#dca55f"/>
<rect x="256.3" y="431.5" width="27.4" height="13" fill="#f2d59e"/>
<rect x="283.1" y="431.5" width="53.9" height="13" fill="#ffffff"/>
<rect x="336.4" y="431.5" width="27.4" height="13" fill="#b1dfcf"/>
<rect x="363.2" y="431.5" width="27.0" height="13" fill="#79cdb0"/>
<rect x="389.6" y="431.5" width="26.9" height="13" fill="#1aae93"/>
<rect x="415.9" y="431.5" width="26.9" height="13" fill="#0d877a"/>
<rect x="442.2" y="431.5" width="27.4" height="13" fill="#0b5e55"/>
<rect x="150.5" y="431.5" width="318.5" height="13" fill="none" stroke="#383838" stroke-width="1"/>
<text x="4.7" y="411.8" font-family="Liberation Sans, sans-serif" font-size="9.7" fill="#8e8e8e" font-weight="normal" font-style="normal" text-anchor="start" textLength="104.8" lengthAdjust="spacingAndGlyphs">Precipitation Outlook</text>
<text x="4.7" y="423.1" font-family="Liberation Sans, sans-serif" font-size="9.7" fill="#8e8e8e" font-weight="normal" font-style="normal" text-anchor="start" textLength="122.8" lengthAdjust="spacingAndGlyphs">for December – February</text>
<text x="4.7" y="434.4" font-family="Liberation Sans, sans-serif" font-size="9.7" fill="#8e8e8e" font-weight="normal" font-style="normal" text-anchor="start" textLength="91.3" lengthAdjust="spacingAndGlyphs">Issued 19 Oct 2017</text>
<text x="232.1" y="413" font-family="Liberation Sans, sans-serif" font-size="11.5" fill="#333" font-weight="bold" font-style="normal" text-anchor="start" textLength="59.7" lengthAdjust="spacingAndGlyphs">Probability</text>
<text x="296.3" y="413" font-family="Liberation Sans, sans-serif" font-size="11.5" fill="#333" font-weight="normal" font-style="normal" text-anchor="start" textLength="91.4" lengthAdjust="spacingAndGlyphs">(percent chance)</text>
<text x="164.3" y="426.2" font-family="Liberation Sans, sans-serif" font-size="9.8" fill="#3a3a3a" font-weight="normal" font-style="italic" text-anchor="start" textLength="88.1" lengthAdjust="spacingAndGlyphs">drier than normal</text>
<text x="274.8" y="426.2" font-family="Liberation Sans, sans-serif" font-size="9.8" fill="#3a3a3a" font-weight="normal" font-style="italic" text-anchor="start" textLength="67.8" lengthAdjust="spacingAndGlyphs">equal chances</text>
<text x="363.5" y="426.2" font-family="Liberation Sans, sans-serif" font-size="9.8" fill="#3a3a3a" font-weight="normal" font-style="italic" text-anchor="start" textLength="97.8" lengthAdjust="spacingAndGlyphs">wetter than normal</text>
<text x="145.15" y="455.5" font-family="Liberation Sans, sans-serif" font-size="10" fill="#333" font-weight="normal" font-style="normal" text-anchor="start" textLength="11.3" lengthAdjust="spacingAndGlyphs">80</text>
<text x="170.05" y="455.5" font-family="Liberation Sans, sans-serif" font-size="10" fill="#333" font-weight="normal" font-style="normal" text-anchor="start" textLength="11.3" lengthAdjust="spacingAndGlyphs">70</text>
<text x="197.05" y="455.5" font-family="Liberation Sans, sans-serif" font-size="10" fill="#333" font-weight="normal" font-style="normal" text-anchor="start" textLength="11.3" lengthAdjust="spacingAndGlyphs">60</text>
<text x="223.05" y="455.5" font-family="Liberation Sans, sans-serif" font-size="10" fill="#333" font-weight="normal" font-style="normal" text-anchor="start" textLength="11.3" lengthAdjust="spacingAndGlyphs">50</text>
<text x="250.15" y="455.5" font-family="Liberation Sans, sans-serif" font-size="10" fill="#333" font-weight="normal" font-style="normal" text-anchor="start" textLength="11.3" lengthAdjust="spacingAndGlyphs">40</text>
<text x="278.25" y="455.5" font-family="Liberation Sans, sans-serif" font-size="10" fill="#333" font-weight="normal" font-style="normal" text-anchor="start" textLength="11.3" lengthAdjust="spacingAndGlyphs">33</text>
<text x="331.25" y="455.5" font-family="Liberation Sans, sans-serif" font-size="10" fill="#333" font-weight="normal" font-style="normal" text-anchor="start" textLength="11.3" lengthAdjust="spacingAndGlyphs">33</text>
<text x="356.05" y="455.5" font-family="Liberation Sans, sans-serif" font-size="10" fill="#333" font-weight="normal" font-style="normal" text-anchor="start" textLength="11.3" lengthAdjust="spacingAndGlyphs">40</text>
<text x="384.05" y="455.5" font-family="Liberation Sans, sans-serif" font-size="10" fill="#333" font-weight="normal" font-style="normal" text-anchor="start" textLength="11.3" lengthAdjust="spacingAndGlyphs">50</text>
<text x="409.15" y="455.5" font-family="Liberation Sans, sans-serif" font-size="10" fill="#333" font-weight="normal" font-style="normal" text-anchor="start" textLength="11.3" lengthAdjust="spacingAndGlyphs">60</text>
<text x="434.35" y="455.5" font-family="Liberation Sans, sans-serif" font-size="10" fill="#333" font-weight="normal" font-style="normal" text-anchor="start" textLength="11.3" lengthAdjust="spacingAndGlyphs">70</text>
<text x="462.65" y="455.5" font-family="Liberation Sans, sans-serif" font-size="10" fill="#333" font-weight="normal" font-style="normal" text-anchor="start" textLength="11.3" lengthAdjust="spacingAndGlyphs">80</text>
<text x="556" y="412.4" font-family="Liberation Sans, sans-serif" font-size="10.5" fill="#999" font-weight="normal" font-style="normal" text-anchor="start" textLength="58.2" lengthAdjust="spacingAndGlyphs">Climate.gov</text>
<text x="561.2" y="422.9" font-family="Liberation Sans, sans-serif" font-size="10.5" fill="#999" font-weight="normal" font-style="normal" text-anchor="start" textLength="48.4" lengthAdjust="spacingAndGlyphs">Data: CPC</text>
<g transform="translate(587,374.9)">
<clipPath id="noaa"><circle r="18.4"/></clipPath>
<circle r="20" fill="#fff"/>
<circle r="18.4" fill="#1f78cc"/>
<path clip-path="url(#noaa)" d="M-21,-21 L21,-21 L21,-9.5 L17.1,-8.2 C15,-6 13,-4.5 12.2,-3.8 C10,-1.6 8.5,-0.3 7.4,0.6 C5.5,2.3 4,3.6 3.4,4 C2.4,5 1.5,5.5 0.5,5.6 C-1,5.5 -2.4,4.6 -2.4,4.5 C-4.5,3.3 -6,2.4 -7.3,1.6 C-9,0.4 -10.5,-0.8 -12.2,-1.9 C-14.5,-3.4 -16.5,-4.3 -18.1,-4.8 L-21,-5.5Z" fill="#fff"/>
<path d="M-15.6,-11.4 A18.6,18.6 0 0 1 14.2,-12.6 C13,-9.5 10.5,-5.5 8,-2.5 C5.5,0.5 3,2.5 0.5,3.6 C-2.5,2.8 -5,1 -7.5,-1 C-11,-4 -13.5,-7 -15.6,-11.4Z" fill="#233a7c"/>
<path d="M-4.9,7.4 Q1.5,5.8 7.4,3.5" stroke="#fff" stroke-width="1.3" fill="none"/>
<text x="-8.3" y="-6.3" font-family="Liberation Sans, sans-serif" font-size="6.8" font-weight="bold" fill="#fff" textLength="15.7" lengthAdjust="spacingAndGlyphs">NOAA</text>
</g>
</svg>

</body></html>
